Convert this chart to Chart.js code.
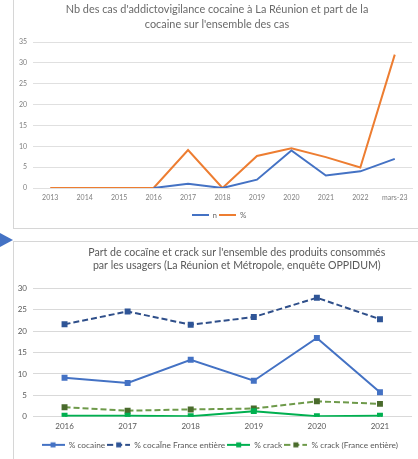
<!DOCTYPE html>
<html>
<head>
<meta charset="utf-8">
<script src="https://cdn.jsdelivr.net/npm/chart.js@4.4.0/dist/chart.umd.min.js"></script>
<style>
  html, body { margin: 0; padding: 0; background: #fff; }
  body { width: 418px; height: 459px; position: relative; overflow: hidden; }
  .line { position: absolute; background: #d6d6d6; }
  .arrow { position: absolute; left: 0; top: 233px; width: 0; height: 0;
           border-top: 7px solid transparent; border-bottom: 7px solid transparent;
           border-left: 13px solid #4472c4; }
  canvas { position: absolute; display: block; }
</style>
</head>
<body>
<!-- panel frames -->
<div class="line" style="left:13px;top:0;width:1px;height:228px"></div>
<div class="line" style="left:13px;top:228px;width:405px;height:1px"></div>
<div class="line" style="left:13px;top:241px;width:405px;height:1px"></div>
<div class="line" style="left:13px;top:241px;width:1px;height:218px"></div>
<div class="arrow"></div>

<canvas id="chart1" width="404" height="229" style="left:14px;top:0"></canvas>
<canvas id="chart2" width="404" height="217" style="left:14px;top:242px"></canvas>

<script>
// Data - chart 1 (addictovigilance, La Réunion)
const years1 = ["2013", "2014", "2015", "2016", "2017", "2018", "2019", "2020", "2021", "2022", "mars-23"];
const nCases = [null, null, null, 0, 1, 0, 2, 9, 3, 4, 7];
const pctCases = [0, 0, 0, 0, 9.1, 0, 7.7, 9.5, 7.4, 4.9, 32];

// Data - chart 2 (OPPIDUM)
const years2 = ["2016", "2017", "2018", "2019", "2020", "2021"];
const cocaine = [9.1, 7.9, 13.3, 8.4, 18.4, 5.7];
const cocaineFrance = [21.6, 24.6, 21.5, 23.3, 27.8, 22.8];
const crack = [0.2, 0.2, 0.1, 1.3, 0.1, 0.2];
const crackFrance = [2.2, 1.4, 1.7, 1.9, 3.6, 3.0];

const FONT = "Lato, 'Open Sans', sans-serif";

// Legend symbol: line sample, optional dash and square marker
function legendIcon(color, width, dash, markerColor) {
  const c = document.createElement("canvas");
  c.width = width; c.height = 8;
  const g = c.getContext("2d");
  g.strokeStyle = color;
  g.lineWidth = 2;
  g.setLineDash(dash || []);
  g.beginPath();
  g.moveTo(0, 4);
  g.lineTo(width, 4);
  g.stroke();
  if (markerColor) {
    g.fillStyle = markerColor;
    g.fillRect(Math.round(width / 2) - 3, 1.5, 5, 5);
  }
  return c;
}

function iconLabels(icons) {
  return function(chart) {
    const items = Chart.defaults.plugins.legend.labels.generateLabels(chart);
    items.forEach((it, i) => { it.pointStyle = icons[i]; });
    return items;
  };
}

// move title / legend sideways like the Excel original
function shiftBoxes(titleDx, legendDx) {
  return {
    id: "shiftBoxes",
    afterLayout(chart) {
      chart.titleBlock.left += titleDx;
      chart.titleBlock.right += titleDx;
      chart.legend.left += legendDx;
      chart.legend.right += legendDx;
    }
  };
}

// Chart 1
const icons1 = [legendIcon("#4472c4", 17), legendIcon("#ed7d31", 17)];

new Chart(document.getElementById("chart1"), {
  type: "line",
  data: {
    labels: years1,
    datasets: [
      { label: "n", data: nCases, borderColor: "#4472c4", backgroundColor: "#4472c4",
        borderWidth: 2, pointRadius: 0, tension: 0 },
      { label: "%", data: pctCases, borderColor: "#ed7d31", backgroundColor: "#ed7d31",
        borderWidth: 2, pointRadius: 0, tension: 0 }
    ]
  },
  options: {
    responsive: false,
    animation: false,
    devicePixelRatio: 1,
    layout: { padding: { left: 0, right: 6, top: 0, bottom: 0 } },
    plugins: {
      title: {
        display: true,
        text: ["Nb des cas d'addictovigilance cocaine à La Réunion et part de la",
               "cocaine sur l'ensemble des cas"],
        color: "#6a6a6a",
        font: { family: FONT, size: 10.9, weight: "normal", lineHeight: 1.38 },
        padding: { top: 1.5, bottom: 10.5 }
      },
      legend: {
        position: "bottom",
        labels: {
          usePointStyle: true, pointStyleWidth: 17,
          color: "#6a6a6a", font: { family: FONT, size: 8 },
          padding: 2,
          generateLabels: iconLabels(icons1)
        }
      },
      tooltip: { enabled: false }
    },
    scales: {
      x: {
        offset: true,
        grid: { display: false, drawTicks: false },
        border: { color: "#e0e0e0" },
        ticks: { color: "#808080", font: { family: FONT, size: 7 }, padding: 6, maxRotation: 0 },
        afterFit(scale) { scale.height = 21; }
      },
      y: {
        min: 0, max: 35,
        grid: { color: "#e0e0e0", drawTicks: false },
        border: { display: false },
        ticks: { stepSize: 5, color: "#808080", font: { family: FONT, size: 7 }, padding: 6 },
        afterFit(scale) { scale.width = 19; }
      }
    }
  },
  plugins: [shiftBoxes(4, 6)]
});

// Chart 2
const icons2 = [
  legendIcon("#4472c4", 23, null, "#4472c4"),
  legendIcon("#2f4f8a", 23, [6, 3], "#2f5597"),
  legendIcon("#00b050", 23, null, "#00b050"),
  legendIcon("#6e9a4a", 23, [6, 3], "#4a6b2c")
];

new Chart(document.getElementById("chart2"), {
  type: "line",
  data: {
    labels: years2,
    datasets: [
      { label: "% cocaine", data: cocaine, borderColor: "#4472c4", backgroundColor: "#4472c4",
        borderWidth: 2, pointStyle: "rect", pointRadius: 2.8, tension: 0 },
      { label: "% cocaÏne France entière", data: cocaineFrance, borderColor: "#2f4f8a",
        backgroundColor: "#2f5597", borderDash: [6, 3], borderWidth: 2,
        pointStyle: "rect", pointRadius: 2.8, pointBorderColor: "#2f5597", tension: 0 },
      { label: "% crack", data: crack, borderColor: "#00b050", backgroundColor: "#00b050",
        borderWidth: 2, pointStyle: "rect", pointRadius: 2.8, tension: 0 },
      { label: "% crack (France entière)", data: crackFrance, borderColor: "#6e9a4a",
        backgroundColor: "#4a6b2c", borderDash: [6, 3], borderWidth: 2,
        pointStyle: "rect", pointRadius: 2.8, pointBorderColor: "#4a6b2c", tension: 0 }
    ]
  },
  options: {
    responsive: false,
    animation: false,
    devicePixelRatio: 1,
    layout: { padding: { left: 0, right: 6.5, top: 0, bottom: 0 } },
    plugins: {
      title: {
        display: true,
        text: ["Part de cocaïne et crack sur l'ensemble des produits consommés",
               "par les usagers (La Réunion et Métropole, enquête OPPIDUM)"],
        color: "#595959",
        font: { family: FONT, size: 10.6, weight: "normal", lineHeight: 1.23 },
        padding: { top: 4.5, bottom: 15.8 }
      },
      legend: {
        position: "bottom",
        labels: {
          usePointStyle: true, pointStyleWidth: 23,
          color: "#595959", font: { family: FONT, size: 8.3 },
          padding: 2,
          generateLabels: iconLabels(icons2)
        }
      },
      tooltip: { enabled: false }
    },
    scales: {
      x: {
        offset: true,
        grid: { display: false, drawTicks: false },
        border: { color: "#d9d9d9" },
        ticks: { color: "#595959", font: { family: FONT, size: 8 }, padding: 5, maxRotation: 0 },
        afterFit(scale) { scale.height = 22; }
      },
      y: {
        min: 0, max: 30,
        grid: { color: "#d9d9d9", drawTicks: false },
        border: { display: false },
        ticks: { stepSize: 5, color: "#595959", font: { family: FONT, size: 8 }, padding: 6 },
        afterFit(scale) { scale.width = 19; }
      }
    }
  },
  plugins: [shiftBoxes(24, 7)]
});
</script>
</body>
</html>
